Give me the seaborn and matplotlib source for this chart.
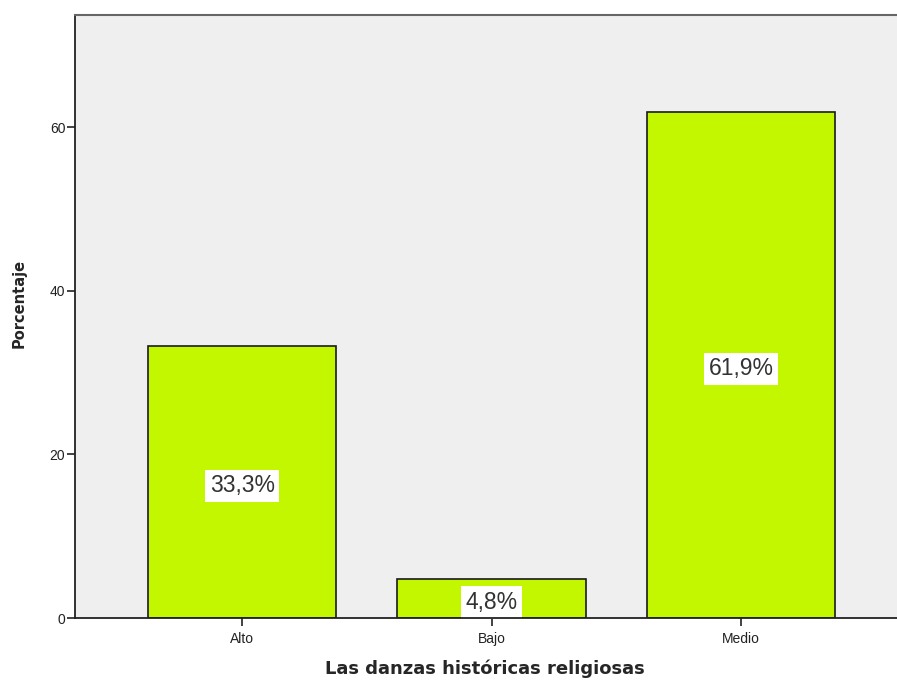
import matplotlib
matplotlib.use('Agg')
import pandas as pd
import seaborn as sns
import matplotlib.pyplot as plt

# Datos del gráfico
categorias = ['Alto', 'Bajo', 'Medio']
porcentajes = [33.3, 4.8, 61.9]
etiquetas = ['33,3%', '4,8%', '61,9%']

dados = pd.DataFrame({'nivel': categorias, 'pct': porcentajes})

sns.set_style('white')
plt.rcParams['font.family'] = ['Liberation Sans', 'DejaVu Sans']

fig = plt.figure(figsize=(8.97, 6.85), dpi=100)
# el área del gráfico sobresale por la derecha, como en la imagen original
ax = fig.add_axes([75 / 897, 1 - 618 / 685, 833 / 897, 603 / 685])
ax.set_facecolor('#EFEFEF')

sns.barplot(data=dados, x='nivel', y='pct', color='#C3F700', saturation=1,
            width=0.754, edgecolor='#1a1a1a', linewidth=1.2, ax=ax)

# Etiquetas de porcentaje en el centro de cada barra
for i, (v, t) in enumerate(zip(porcentajes, etiquetas)):
    ax.annotate(t, (i, v / 2), xytext=(0, -3), textcoords='offset points',
                ha='center', va='center', fontsize=16.5, color='#333333',
                bbox=dict(facecolor='white', edgecolor='none', pad=3.5),
                zorder=2)

ax.set_xlim(-0.67, 2.67)
ax.set_ylim(0, 73.7)
ax.set_yticks([0, 20, 40, 60])

ax.set_xlabel('Las danzas históricas religiosas', fontsize=13, fontweight='bold',
              family='DejaVu Sans')
ax.set_ylabel('Porcentaje', fontsize=10.5, fontweight='bold', family='DejaVu Sans')
ax.xaxis.set_label_coords((485 - 75) / 833, -(659 - 618) / 603)
ax.yaxis.set_label_coords(-(75 - 27) / 833, (618 - 303) / 603)
ax.tick_params(axis='both', direction='out', length=6, width=1.2, labelsize=10,
               colors='#222222', bottom=True, left=True)
ax.tick_params(axis='x', pad=4)
ax.tick_params(axis='y', pad=1)

for lado in ['left', 'bottom']:
    ax.spines[lado].set_color('#222222')
    ax.spines[lado].set_linewidth(1.3)
ax.spines['top'].set_color('#666666')
ax.spines['top'].set_linewidth(1.5)
ax.spines['right'].set_visible(False)

fig.savefig('out.png', dpi=100)
